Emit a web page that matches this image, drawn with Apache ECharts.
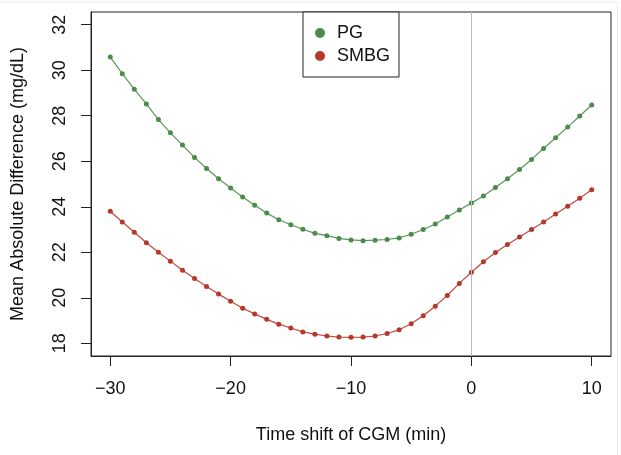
<!DOCTYPE html>
<html>
<head>
<meta charset="utf-8">
<script src="https://cdn.jsdelivr.net/npm/echarts@6/dist/echarts.min.js"></script>
<style>html,body{margin:0;padding:0;background:#fff}#c{width:621px;height:455px}</style>
</head>
<body>
<div id="c"></div>
<script>
var timeShift = [-30,-29,-28,-27,-26,-25,-24,-23,-22,-21,-20,-19,-18,-17,-16,-15,-14,-13,-12,-11,-10,-9,-8,-7,-6,-5,-4,-3,-2,-1,0,1,2,3,4,5,6,7,8,9,10];
var pgValues = [30.58,29.85,29.16,28.52,27.83,27.25,26.71,26.17,25.68,25.23,24.82,24.43,24.07,23.72,23.43,23.21,23.01,22.83,22.73,22.61,22.54,22.51,22.53,22.56,22.63,22.79,23.00,23.24,23.55,23.86,24.16,24.47,24.85,25.23,25.64,26.08,26.56,27.03,27.50,27.99,28.47];
var smbgValues = [23.80,23.33,22.88,22.42,22.00,21.61,21.21,20.85,20.50,20.16,19.85,19.54,19.29,19.05,18.84,18.67,18.50,18.40,18.32,18.27,18.26,18.27,18.32,18.43,18.59,18.86,19.21,19.63,20.10,20.63,21.12,21.58,21.99,22.34,22.67,23.00,23.33,23.68,24.02,24.37,24.75];
var xTicks = [-30,-20,-10,0,10];
var yTicks = [18,20,22,24,26,28,30,32];
var seriesNames = ['PG','SMBG'];

function pairs(xs, ys){ return xs.map(function(x,i){ return [x, ys[i]]; }); }
function fmt(v){ return v < 0 ? '\u2212' + Math.abs(v) : String(v); }

var FONT = 'Liberation Sans, Arial, Helvetica, sans-serif';
var GREEN = '#4b8b4b', RED = '#b5382c';
var chart = echarts.init(document.getElementById('c'), null, {renderer:'canvas'});
chart.setOption({
  animation: false,
  backgroundColor: '#fff',
  textStyle: {fontFamily: FONT},
  grid: {left: 91, top: 12, right: 10, bottom: 99, show: true, borderColor: '#222', borderWidth: 1, backgroundColor: 'transparent'},
  legend: {
    data: seriesNames,
    orient: 'vertical',
    left: 303, top: 12,
    icon: 'circle',
    itemWidth: 10, itemHeight: 10,
    itemGap: 5,
    padding: [12, 9, 12, 12],
    borderColor: '#222', borderWidth: 1,
    backgroundColor: '#fff',
    textStyle: {fontSize: 18, color: '#111', fontFamily: FONT, lineHeight: 18, padding: [0, 0, 0, 7]}
  },
  xAxis: {
    type: 'value', min: -31.6, max: 11.6,
    name: 'Time shift of CGM (min)', nameLocation: 'middle', nameGap: 70,
    nameTextStyle: {fontSize: 18, color: '#111', fontFamily: FONT},
    splitLine: {show: false},
    axisLine: {show: true, onZero: false, lineStyle: {color: '#222', width: 1}},
    axisTick: {show: true, customValues: xTicks, length: 10, lineStyle: {color: '#222'}},
    axisLabel: {customValues: xTicks, formatter: fmt, fontSize: 18, color: '#111', margin: 24, fontFamily: FONT}
  },
  yAxis: {
    type: 'value', min: 17.44, max: 32.56,
    name: 'Mean Absolute Difference (mg/dL)', nameLocation: 'middle', nameGap: 64, nameRotate: 90,
    nameTextStyle: {fontSize: 18, color: '#111', fontFamily: FONT},
    splitLine: {show: false},
    axisLine: {show: true, onZero: false, lineStyle: {color: '#222', width: 1}},
    axisTick: {show: true, customValues: yTicks, length: 10, lineStyle: {color: '#222'}},
    axisLabel: {customValues: yTicks, formatter: fmt, rotate: 90, fontSize: 18, color: '#111', margin: 22, fontFamily: FONT}
  },
  series: [
    {name: 'PG', type: 'line', data: pairs(timeShift, pgValues), symbol: 'circle', symbolSize: 5,
     itemStyle: {color: GREEN}, lineStyle: {color: '#5a985a', width: 1.2}, z: 3},
    {name: 'SMBG', type: 'line', data: pairs(timeShift, smbgValues), symbol: 'circle', symbolSize: 5,
     itemStyle: {color: RED}, lineStyle: {color: '#c04a3e', width: 1.2}, z: 3},
    {name: 'vline', type: 'line', data: [], z: 5, silent: true,
     markLine: {silent: true, symbol: 'none', label: {show: false}, animation: false,
       lineStyle: {color: '#bdbdbd', width: 1, type: 'solid'}, data: [{xAxis: 0}]}}
  ],
  graphic: [
    {type: 'line', shape: {x1: 0, y1: 2, x2: 617, y2: 2}, style: {stroke: '#ececec', lineWidth: 1}},
    {type: 'line', shape: {x1: 617.5, y1: 2, x2: 617.5, y2: 455}, style: {stroke: '#ececec', lineWidth: 1}}
  ]
});
</script>
</body>
</html>
